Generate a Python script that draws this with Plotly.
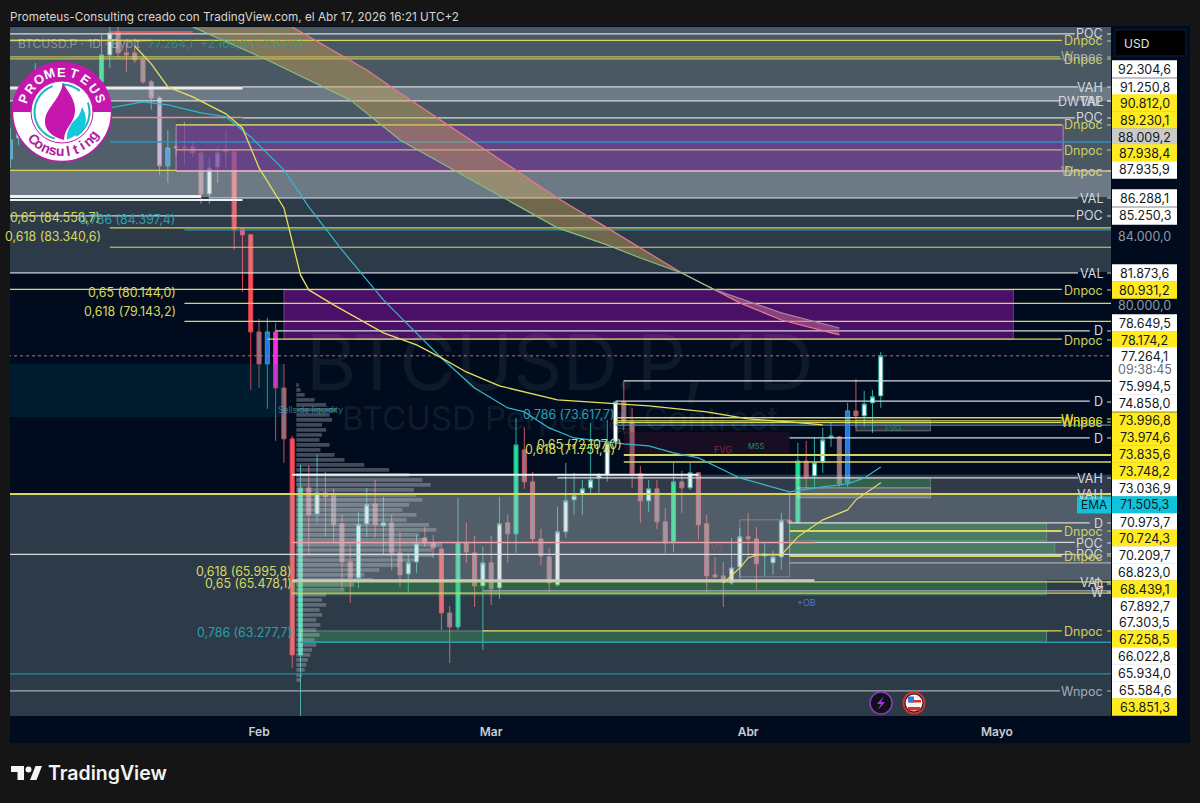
import math
from datetime import datetime, timedelta
import numpy as np
import pandas as pd
import plotly.graph_objects as go

# ---------- candles ----------
candle_dates = ["2026-01-02", "2026-01-03", "2026-01-05"] + [d.strftime("%Y-%m-%d") for d in pd.date_range("2026-01-13", "2026-04-17")]
opens = [88630,89945,92680,
 93530,95300,96840,95435,95435,94970,93530,92490,88205,89318,89380,89380,89006,86500,88143,89192,89068,84065,84065,
 78563,76830,78563,75553,72918,62720,70468,69202,70223,70076,68722,66920,66180,68722,69687,68770,68770,67342,66364,66920,68053,67815,67530,64584,63957,67815,67342,65810,
 66877,65720,68770,68244,72359,70765,68006,67154,65857,68339,69880,70174,70468,70958,71111,72765,74821,73786,71160,69832,70419,68818,67863,70765,70468,71209,68722,66318,66272,65945,66689,
 68100,68006,67295,66877,67154,68866,68770,71800,71062,71756,72964,73017,70714,74352,74095,74768,75135]
highs = [90575,90765,94770,
 96640,97180,97180,96100,95767,95170,93660,92620,90448,89820,90960,89690,89130,88695,89380,90385,89192,84415,84120,
 79280,79335,79060,76830,73070,71607,71556,72108,71258,70419,69154,67720,69298,70468,70860,70027,69154,68339,67342,68196,68578,68196,67625,64900,69980,68770,68148,67625,
 68148,70027,69154,73990,73528,71258,68482,67578,69540,71706,71209,70860,73734,71209,73889,74830,75924,74508,71556,70860,70860,69492,71706,71307,71706,71258,69154,67154,66920,68053,68530,
 69250,68578,67815,67436,69250,70223,72714,72815,73017,73477,73734,73068,74770,76030,75394,75447,77474]
lows = [88080,89507,92000,
 93140,94440,95105,94180,94770,93400,91720,87650,87165,88880,88266,88757,85900,85900,87165,88143,83186,80786,75447,
 75553,74456,72815,71706,62154,60108,67248,68770,68100,67863,65627,65036,65720,68100,68053,67248,66548,65765,65536,66410,67625,67107,63822,62370,63822,66877,64853,62938,
 64945,65218,66877,67342,70419,67815,66783,65536,65765,68053,69154,69154,70223,70223,70765,72714,73374,70468,68770,69298,68482,67342,67389,69250,70370,67958,65490,66180,64853,65857,65995,
 67107,65627,66272,66318,66548,68722,68770,70468,70517,71209,72512,70517,70517,73477,73528,73220,74508]
closes = [89820,90260,93650,
 95300,96775,95435,95300,94970,93530,92490,88205,89318,89380,89318,89006,86500,88082,89006,89068,84355,84415,78563,
 76830,78563,75553,72918,62720,70468,69154,70223,70027,68674,66920,66180,68674,69638,68674,68626,67342,66318,66877,67768,67815,67578,64584,63957,67815,67389,65810,66877,
 65673,68722,68244,72612,70765,68006,67202,65945,68339,69832,70076,70419,70860,71111,72714,74821,73786,71160,69832,70419,68818,67815,70765,70468,71209,68674,66272,66226,65995,66642,68100,
 68006,66830,67202,67154,68866,68770,71800,71013,71706,72866,73068,70665,74352,74095,74716,75085,77264.1]
candle_kinds = list("BwG" "GwgggggLBggggwLgRMR" "gBMgRGgwggggwwgwggwwggRgGggw" "gwgGggggwwwwwwwwgggwggGgwggggww" "ggwwwgGgwwwgBgwww")
assert len(candle_dates) == len(opens) == len(highs) == len(lows) == len(closes) == len(candle_kinds)

kind_fill = {"g": "#8c7480", "w": "#ffffff", "G": "#14e88a", "R": "#ff4d55", "M": "#f52ce8", "B": "#1e78f0", "L": "#c9a8e0"}
kind_wick = {"g": "#c8505c", "w": "#2aa79b", "G": "#2aa79b", "R": "#e04050", "M": "#e04050", "B": "#2aa79b", "L": "#c8505c"}

# ---------- moving averages and fan ----------
ema_a_dates = ["2026-01-17","2026-01-19","2026-01-21","2026-01-24","2026-01-28","2026-01-30","2026-02-01","2026-02-04","2026-02-06","2026-02-07","2026-02-10","2026-02-16","2026-02-20","2026-02-23","2026-02-26","2026-03-02","2026-03-09","2026-03-14","2026-03-20","2026-03-27","2026-04-01","2026-04-06","2026-04-10"]
ema_a_values = [95900,94710,93200,92550,91465,90575,88080,85660,81750,80898,80060,78510,77855,77150,76400,75660,74925,74770,74610,74300,73940,73785,73630]
ema_b_dates = ["2026-01-14","2026-01-18","2026-01-21","2026-01-25","2026-01-28","2026-01-31","2026-02-04","2026-02-07","2026-02-11","2026-02-16","2026-02-19","2026-02-23","2026-02-27","2026-03-03","2026-03-05","2026-03-08","2026-03-11","2026-03-17","2026-03-20","2026-03-23","2026-03-26","2026-03-31","2026-04-03","2026-04-06","2026-04-10","2026-04-13","2026-04-15","2026-04-17"]
ema_b_values = [91850,92230,92040,91530,91280,90005,87958,85720,83186,80340,78950,77150,75553,74508,74300,73477,72964,72660,72560,72209,71958,70958,70615,70272,70517,70665,70958,71506]
ema_c_dates = ["2026-03-29","2026-03-31","2026-04-01","2026-04-02","2026-04-05","2026-04-07","2026-04-10","2026-04-13","2026-04-14","2026-04-17"]
ema_c_values = [65945,66642,67107,67248,67248,68100,68914,69394,69882,70715]

fan_upper_dates = ["2026-02-05","2026-02-14","2026-02-18","2026-03-09","2026-03-15","2026-03-19","2026-03-24","2026-03-28","2026-03-31","2026-04-05","2026-04-12"]
fan_upper_values = [97180,94311,92810,86256,84474,83300,81862,80898,80170,79220,78400]
fan_lower_dates = ["2026-01-24","2026-02-02","2026-02-12","2026-02-18","2026-03-09","2026-03-15","2026-03-19","2026-03-24","2026-03-28","2026-04-05","2026-04-12"]
fan_lower_values = [97180,94970,92360,89816,84474,83476,82720,81862,80898,79610,78780]
FAN_CROSS_UP = 7   # index of the shared point in the upper edge
FAN_CROSS_LO = 8   # index of the shared point in the lower edge

# ---------- volume profile ----------
profile_prices = [75710,75447,75190,74925,74665,74404,74146,73889,73632,73374,73120,72865,72612,72359,72108,71857,71607,71356,71111,70860,70615,70370,70125,69882,69638,69394,69154,68914,68674,68434,68196,67958,67720,67483,67248,67014,66783,66548,66318,66088,65857,65627,65400,65172,64945,64718,64493,64270,64045,63822,63600,63380,63158,62938,62720,62500,62285,62067,61850,61635]
profile_days = [0.3,0.5,1,2.2,3.6,4.8,4,4.3,3.1,3.6,3.1,2.8,4,2.9,4.6,5.8,8.2,11.2,13.6,15.2,16.2,14.2,14.5,15.2,13.6,12.8,14.5,13.3,16,16.9,14.8,15.7,17.6,16.4,16.6,14.5,12.4,10,8.2,9.2,7,5.8,3.6,3.1,3.6,2.8,3.1,2.4,2.9,2.4,2.8,2.2,2.4,1.9,1.7,1.4,1.2,1,0.7,0.5]
profile_base = "2026-02-05 12:00"

# ---------- zones ----------
E0, E1 = "2026-01-01", "2026-05-20"
zone_starts = [E0, E0, E0, E0, E0, E0, "2026-02-05 12:00", E0]
zone_ends = [E1, E1, E1, E1, "2026-01-22", E1, E1, "2026-02-04"]
zone_tops = [98000, 98000, 93200, 87896, 91208, 70170, 71111, 76830]
zone_bottoms = [81918, 86315, 92296, 86315, 87896, 59000, 66088, 74040]
zone_fills = ["rgba(180,200,200,.25)", "rgba(205,220,220,.18)", "rgba(220,225,240,.25)", "rgba(220,225,240,.25)", "rgba(220,225,240,.06)", "rgba(180,200,200,.25)", "rgba(190,195,205,.25)", "rgba(0,100,120,.19)"]

box_starts = ["2026-01-22","2026-02-04","2026-04-06","2026-04-06","2026-02-05","2026-02-06","2026-04-07","2026-04-07","2026-04-14","2026-03-17","2026-03-31"]
box_ends = ["2026-05-09","2026-05-03","2026-05-07","2026-05-08","2026-05-07","2026-05-07","2026-04-23","2026-04-23","2026-04-23","2026-04-06","2026-04-06"]
box_tops = [90760,80898,68770,67815,66040,63778,70958,70468,73889,73272,68914]
box_bottoms = [87896,78174,67910,67199,65400,63277,70468,69978,73323,72107,66226]
GRN = "rgba(60,200,90,.28)"
box_fills = ["rgba(118,55,155,.6)", "rgba(92,17,122,.8)", GRN, GRN, GRN, GRN, GRN, "rgba(255,255,255,.2)", "rgba(255,255,255,.18)", "rgba(90,20,50,.25)", "rgba(0,0,0,0)"]
box_borders = ["rgba(255,255,255,.4)", "rgba(255,255,255,.25)", "rgba(255,255,255,.2)", "rgba(255,255,255,.2)", "rgba(255,255,255,.2)", "rgba(255,255,255,.3)", "rgba(255,255,255,.2)", "rgba(255,255,255,.3)", "rgba(255,255,255,.3)", "rgba(0,0,0,0)", "rgba(255,255,255,.25)"]

# ---------- horizontal levels ----------
D_, P_, V_, DD, W_, R_ = "2026-05-08 20:00", "2026-05-10 10:00", "2026-05-10 19:00", "2026-05-12 05:00", "2026-05-08 15:00", E1
white_prices = [96712,93200,92296,91208,86256,85184,81862,78618,75923,74858,72964,70958,68770,67271,67837]
white_starts = [E0,"2026-01-30",E0,"2026-01-30","2026-01-26",E0,E0,"2026-02-03","2026-03-17","2026-03-16","2026-04-06","2026-03-09","2026-04-06",E0,"2026-04-09"]
white_ends = [P_,V_,W_,P_,V_,P_,V_,DD,R_,DD,DD,V_,DD,P_,P_]
thick_prices = [93137,86345,86140,71111,66062]
thick_starts = [E0,E0,E0,"2026-02-05","2026-02-05"]
thick_ends = ["2026-01-30","2026-01-25","2026-01-30","2026-03-26","2026-04-09"]
thick_widths = [3,3,2,2,2.5]
thick_colors = ["#e8eaec","#eef0f2","#eef0f2","#eef0f2","#c8ccce"]
yellow_prices = [96270,95170,95040,90760,87927,84470,83340,80931,80144,79143,78174,73997,73836,73748,72107,71751,70170,68383,67199,65996,65478,63778]
yellow_starts = [E0,E0,E0,"2026-01-22",E0,"2026-01-14","2026-01-14",E0,"2026-01-23","2026-01-23","2026-02-02","2026-03-16","2026-03-16","2026-03-16","2026-03-17","2026-03-17",E0,"2026-04-06","2026-04-06","2026-02-05","2026-02-05","2026-02-28"]
yellow_ends = [D_,W_,D_,D_,"2026-01-22",R_,R_,D_,R_,R_,D_,D_,D_,D_,R_,R_,R_,D_,D_,R_,R_,D_]
yellow_widths = [1.2,1,1,1.2,1.2,1.2,1.2,1.2,1.2,1.2,1.2,1.4,1.4,1.4,2,1.4,2,2,2,1.2,1.2,1.2]
accent_prices = [96840,91240,87896,89192,67837,96270]
accent_starts = ["2026-01-14","2026-01-14","2026-01-22","2026-01-22","2026-02-05",E0]
accent_ends = ["2026-01-24","2026-01-30",R_,D_,"2026-04-09","2026-01-19"]
accent_colors = ["#ff5a5a","#ea8f8f","#e8b0c0","#d8b080","#f0a0a8","#ff5a3c"]
accent_widths = [1.5,1.5,1.5,1.2,1.5,2]
teal_prices = [89690,84355,73617,63277,61894]
teal_starts = ["2026-01-14","2026-01-23","2026-03-16","2026-02-06",E0]
teal_ends = [R_,R_,R_,R_,R_]
teal_colors = ["#2f8fc0","#1f9db5","#3a8fc0","#1f9db5","#1f8fa8"]
gray_prices = [66874,65580,61163]
gray_starts = ["2026-04-06","2026-02-28",E0]
gray_ends = [R_,R_,W_]
current_price = 77264.1

# ---------- texts ----------
level_labels = ["POC","Dnpoc","Wnpoc","Dnpoc","VAH","DWTAP","VAL","POC","Dnpoc","Dnpoc","Wnpoc","Dnpoc","VAL","POC","VAL","Dnpoc","D","Dnpoc","D","Wnpoc","Wnpoc","D","VAH","VAH","D","Dnpoc","POC","POC","Dnpoc","VAL","D","W","Dnpoc","Wnpoc"]
level_label_y = [34,41,57,59,87,101,101,118,125,150,171,171,198,216,273,290,331,340,402,419,422,438,478,494,523,531,543,554,556,582,584,592,631,691]
level_label_c = ["w","y","g","y","w","w","w","w","y","y","g","y","w","w","w","y","w","y","w","Y","Y","w","w","w","w","y","w","w","y","w","w","w","y","g"]

price_texts = ["92.304,6","91.250,8","90.812,0","89.230,1","88.009,2","87.938,4","87.935,9","86.288,1","85.250,3","81.873,6","80.931,2","78.649,5","78.174,2","77.264,1","09:38:45","75.994,5","74.858,0","73.996,8","73.974,6","73.835,6","73.748,2","73.036,9","71.505,3","70.973,7","70.724,3","70.209,7","68.823,0","68.439,1","67.892,7","67.303,5","67.258,5","66.022,8","65.934,0","65.584,6","63.851,3"]
price_y = [69,87,103,120,137,153,170,198,216,273,290,323,340,356,370,386,403,421,437,454,471,488,505,522,538,555,572,589,606,622,639,656,673,690,707]
price_bg = list("wwyygyw" "ww" "w" "y" "wy" "ww" "ww" "yyyy" "w" "c" "w" "y" "ww" "y" "ww" "y" "www" "y")

fib_texts = ["0,65 (84.558,7)","0,786 (84.397,4)","0,618 (83.340,6)","0,65 (80.144,0)","0,618 (79.143,2)","0,618 (65.995,8)","0,65 (65.478,1)","0,786 (63.277,7)","0,786 (73.617,7)","0,65 (72.107,0)","0,618 (71.751,4)"]
fib_right = [102,177,103,178,178,294,294,294,617,624,617]
fib_y = [217,219,237,292,311,571,583,632,414,444,450]
fib_colors = ["#d8d860","#2a9fb0","#d8d860","#d8d860","#d8d860","#d8d860","#d8d860","#2a9fb0","#2a9fb0","#d8d860","#d8d860"]

tick_dates = ["2026-02-01", "2026-03-01", "2026-04-01", "2026-05-01"]
tick_labels = ["Feb", "Mar", "Abr", "Mayo"]

# ---------- helpers ----------
L, R, T, B = 10, 1111, 27, 716
def px(x): return (x - L) / (R - L)
def py(y): return 1 - (y - T) / (B - T)
NAVY = "#000c1e"
PAGE = "#151515"

fig = go.Figure()

# candles, one trace per colour group
for kind in kind_fill:
    idx = [i for i, k in enumerate(candle_kinds) if k == kind]
    side = dict(fillcolor=kind_fill[kind], line=dict(color=kind_wick[kind], width=1))
    fig.add_trace(go.Candlestick(
        x=[candle_dates[i] for i in idx], open=[opens[i] for i in idx], high=[highs[i] for i in idx],
        low=[lows[i] for i in idx], close=[closes[i] for i in idx],
        increasing=side, decreasing=side, whiskerwidth=0, showlegend=False, hoverinfo="skip"))

def rect(x0, x1, top, bottom, fill, border="rgba(0,0,0,0)"):
    fig.add_trace(go.Scatter(x=[x0, x1, x1, x0, x0], y=[top, top, bottom, bottom, top], mode="lines",
                             fill="toself", fillcolor=fill, line=dict(color=border, width=1),
                             showlegend=False, hoverinfo="skip"))

for a, b, t, m, f in zip(zone_starts, zone_ends, zone_tops, zone_bottoms, zone_fills):
    rect(a, b, t, m, f)
for a, b, t, m, f, e in zip(box_starts, box_ends, box_tops, box_bottoms, box_fills, box_borders):
    rect(a, b, t, m, f, e)

# volume profile
base = datetime.strptime(profile_base, "%Y-%m-%d %H:%M")
vx, vy = [], []
for p, d in zip(profile_prices, profile_days):
    vx += [base, base + timedelta(days=d), None]
    vy += [p, p, None]
fig.add_trace(go.Scatter(x=vx, y=vy, mode="lines", line=dict(color="rgba(215,222,232,.3)", width=3.6), showlegend=False, hoverinfo="skip"))

def hline(p, a, b, color, width, dash="solid"):
    fig.add_trace(go.Scatter(x=[a, b], y=[p, p], mode="lines", line=dict(color=color, width=width, dash=dash), showlegend=False, hoverinfo="skip"))

for p, a, b in zip(gray_prices, gray_starts, gray_ends): hline(p, a, b, "#a5acb5", 1.2)
for p, a, b, c in zip(teal_prices, teal_starts, teal_ends, teal_colors): hline(p, a, b, c, 1.4)
for p, a, b in zip(white_prices, white_starts, white_ends): hline(p, a, b, "#d5d9de", 1.2)
for p, a, b, w, c in zip(thick_prices, thick_starts, thick_ends, thick_widths, thick_colors): hline(p, a, b, c, w)
for p, a, b, c, w in zip(accent_prices, accent_starts, accent_ends, accent_colors, accent_widths): hline(p, a, b, c, w)
for p, a, b, w in zip(yellow_prices, yellow_starts, yellow_ends, yellow_widths): hline(p, a, b, "#d9d65f", w)
hline(current_price, E0, E1, "#c06a8a", 1, "dot")

# fan ribbon: tan before the edges meet, pinkish after
u, l = FAN_CROSS_UP, FAN_CROSS_LO
fig.add_trace(go.Scatter(x=fan_upper_dates[:u+1] + fan_lower_dates[:l+1][::-1], y=fan_upper_values[:u+1] + fan_lower_values[:l+1][::-1], mode="lines", fill="toself",
                         fillcolor="rgba(205,165,85,.42)", line=dict(width=0, color="rgba(0,0,0,0)"), showlegend=False, hoverinfo="skip"))
fig.add_trace(go.Scatter(x=fan_upper_dates[u:] + fan_lower_dates[l:][::-1], y=fan_upper_values[u:] + fan_lower_values[l:][::-1], mode="lines", fill="toself",
                         fillcolor="rgba(205,110,150,.5)", line=dict(width=0, color="rgba(0,0,0,0)"), showlegend=False, hoverinfo="skip"))
fig.add_trace(go.Scatter(x=fan_upper_dates, y=fan_upper_values, mode="lines", line=dict(color="#e8788c", width=1.2), showlegend=False, hoverinfo="skip"))
fig.add_trace(go.Scatter(x=fan_lower_dates[:l+1], y=fan_lower_values[:l+1], mode="lines", line=dict(color="#86bf80", width=1.2), showlegend=False, hoverinfo="skip"))
fig.add_trace(go.Scatter(x=fan_lower_dates[l:], y=fan_lower_values[l:], mode="lines", line=dict(color="#a08aa0", width=1.2), showlegend=False, hoverinfo="skip"))

# averages
fig.add_trace(go.Scatter(x=ema_b_dates, y=ema_b_values, mode="lines", line=dict(color="#35b6cc", width=1.2), showlegend=False, hoverinfo="skip"))
fig.add_trace(go.Scatter(x=ema_a_dates, y=ema_a_values, mode="lines", line=dict(color="#e6df5c", width=1.3), showlegend=False, hoverinfo="skip"))
fig.add_trace(go.Scatter(x=ema_c_dates, y=ema_c_values, mode="lines", line=dict(color="#e6df5c", width=1.2), showlegend=False, hoverinfo="skip"))

annotations = []
shapes = []
def text(x, y, s, color, size=12, anchor="left", weight=400, family="Inter", **kw):
    annotations.append(dict(xref="paper", yref="paper", x=px(x), y=py(y), text=s, showarrow=False, xanchor=anchor, yanchor="middle",
                            font=dict(color=color, size=size, family=family, weight=weight), **kw))
def prect(x0, y0, x1, y1, fill, layer="above", line=None):
    shapes.append(dict(type="rect", xref="paper", yref="paper", x0=px(x0), x1=px(x1), y0=py(y0), y1=py(y1), fillcolor=fill, layer=layer, line=line or dict(width=0)))
def pcircle(cx, cy, r, fill, line=None):
    shapes.append(dict(type="circle", xref="paper", yref="paper", x0=px(cx - r), x1=px(cx + r), y0=py(cy - r), y1=py(cy + r), fillcolor=fill, layer="above", line=line or dict(width=0)))
def ppath(cmds, fill="rgba(0,0,0,0)", line=None):
    out = []
    for c in cmds:
        if isinstance(c, str):
            out.append(c)
        else:
            out.append(f"{px(c[0]):.5f},{py(c[1]):.5f}")
    shapes.append(dict(type="path", xref="paper", yref="paper", path=" ".join(out), fillcolor=fill, layer="above", line=line or dict(width=0)))

# frame
prect(R, 26, 1190, 743, NAVY, "below")
prect(L, B, R, 743, NAVY, "below")
prect(L, 26, 1190, 27, NAVY, "below")

# watermark and legend
text(560, 362, "BTCUSD.P, 1D", "rgba(255,255,255,.055)", 77, "center")
text(560, 418, "BTCUSD Perpetual Contract", "rgba(255,255,255,.075)", 33, "center")
text(16, 44, "BTCUSD.P · 1D · Bybit", "rgba(255,255,255,.38)", 12)
text(146, 44, "77.264,1  +2.163,9 (+2,87%)", "rgba(25,175,125,.65)", 12)

# header / footer
text(8, 17, "Prometeus-Consulting creado con TradingView.com, el Abr 17, 2026 16:21 UTC+2", "#d6d6d6", 11.7)
text(46, 773, "TradingView", "#f4f4f4", 19.5, weight=600)
ppath(["M", (11, 766), "L", (24, 766), "L", (24, 780), "L", (17.5, 780), "L", (17.5, 772), "L", (11, 772), "Z"], "#f4f4f4")
pcircle(28.5, 769.5, 3, "#f4f4f4")
ppath(["M", (30, 780), "L", (35.5, 766), "L", (42, 766), "L", (36.5, 780), "Z"], "#f4f4f4")

# small chart notes
text(310, 410, "Sellside liquidity", "rgba(60,170,190,.7)", 8.5, "center")
text(723, 450, "FVG", "rgba(170,50,60,.75)", 9, "center")
text(756, 447, "MSS", "rgba(40,170,120,.85)", 7.5, "center")
text(625, 431, "FVG", "rgba(120,120,120,.4)", 8, "center")
text(717, 548, "VG", "rgba(170,90,100,.7)", 8.5, "center")
text(806, 602, "+OB", "#4a78c8", 9, "center")
text(893, 428, "FVG", "rgba(40,170,120,.7)", 8, "center")

# fib labels
for s, r, y, c in zip(fib_texts, fib_right, fib_y, fib_colors):
    text(r, y, s, c, 12.4, "right")

# level labels
lab_col = {"w": "#d5d9de", "y": "#cfcf66", "g": "#a5acb5", "Y": "#e6dc30"}
for s, y, c in zip(level_labels, level_label_y, level_label_c):
    text(1105, y, s, lab_col[c], 12.5, "right")
    prect(1107, y - .5, 1111, y + .5, lab_col[c])

# price axis labels
bg_col = {"w": "#ffffff", "y": "#ffeb1f", "g": "#c9c9c9", "c": "#0fc3dc"}
for s, y, b in zip(price_texts, price_y, price_bg):
    tc = "#6a6d78" if ":" in s else "#131722"
    h = 17.4
    prect(1112, y - h / 2, 1177, y + h / 2, bg_col[b])
    text(1144.5, y, s, tc, 12.5, "center")
text(1144.5, 236, "84.000,0", "#8f98a6", 12.5, "center")
text(1144.5, 306, "80.000,0", "#8f98a6", 12.5, "center")
prect(1077, 496.5, 1111, 513.5, bg_col["c"])
text(1094, 505, "EMA", "#131722", 12, "center")
shapes.append(dict(type="rect", xref="paper", yref="paper", x0=px(1115), x1=px(1186), y0=py(30), y1=py(56), fillcolor="#000000", layer="above", line=dict(color="#0f2238", width=1)))
text(1122, 43, "USD", "#e6e6e6", 12)

# event icons
pcircle(881, 703, 11, "#101018", dict(color="#8e3ac0", width=1.5))
ppath(["M", (884, 696), "L", (877, 704), "L", (881, 704), "L", (878, 710), "L", (885, 702), "L", (881, 702), "Z"], "#a53ad8")
pcircle(914, 703, 10.5, "#101018", dict(color="#d63030", width=2))
pcircle(914, 703, 8.5, "#f4f4f4")
prect(908, 707, 920, 710.5, "#d63030")
prect(909, 700, 921, 702.5, "#d63030")
prect(908, 696.5, 914, 702.5, "#3a78d8")

# logo
CX, CY = 62, 112
MAG = "#c517ad"
TEAL = "#17b5c4"
pcircle(CX, CY, 49.5, "#ffffff", dict(color=MAG, width=1.5))
ang = np.radians(np.linspace(180, 360, 40))
arc = [(CX + 49.5 * math.cos(a), CY + 49.5 * math.sin(a)) for a in ang]
cmds = ["M", arc[0]] + sum([["L", p] for p in arc[1:]], []) + ["Z"]
ppath(cmds, MAG)
pcircle(CX, CY, 31, "#ffffff", dict(color=MAG, width=1))
for a0, a1 in [(105, 250), (-20, 60), (270, 310)]:
    pts = [(CX + 27.5 * math.cos(math.radians(a)), CY + 27.5 * math.sin(math.radians(a))) for a in np.linspace(a0, a1, 24)]
    ppath(["M", pts[0]] + sum([["L", p] for p in pts[1:]], []), "rgba(0,0,0,0)", dict(color=TEAL, width=2))
ppath(["M", (63, 83), "C", (68, 92), (76, 100), (75, 112), "C", (74, 124), (64, 128), (64, 140), "C", (52, 137), (44, 130), (45, 120), "C", (46, 108), (60, 100), (63, 83), "Z"], MAG)
ppath(["M", (82, 107), "C", (85, 112), (88, 120), (84, 127), "C", (80, 134), (72, 137), (67, 140), "C", (66, 130), (72, 122), (77, 118), "C", (80, 114), (81, 111), (82, 107), "Z"], "#14c8de")
for i, ch in enumerate("PROMETEUS"):
    a = -71 + i * 142 / 8
    x = CX + 40 * math.sin(math.radians(a))
    y = CY - 40 * math.cos(math.radians(a))
    text(x, y, ch, "#ffffff", 13, "center", 700, "Liberation Sans", textangle=a)
for i, ch in enumerate("Consulting"):
    a = -46 + i * 99 / 9
    x = CX + 39 * math.sin(math.radians(a))
    y = CY + 39 * math.cos(math.radians(a))
    text(x, y, ch, "#b01aa0", 14, "center", 700, "Liberation Sans", textangle=-a)

fig.update_layout(
    width=1200, height=803, autosize=False,
    margin=dict(l=L, r=1200 - R, t=T, b=803 - B, pad=0),
    paper_bgcolor=PAGE, plot_bgcolor=NAVY, showlegend=False, boxmode="overlay",
    xaxis=dict(type="date", range=["2026-01-01 23:00", "2026-05-14 18:30"], rangeslider=dict(visible=False), showgrid=False, zeroline=False,
               showline=False, ticks="", tickmode="array", tickvals=tick_dates, ticktext=tick_labels, ticklabelstandoff=7,
               tickfont=dict(color="#c8ccd0", size=12, family="Inter", weight=600)),
    yaxis=dict(type="log", range=[4.77890, 4.98756], showgrid=False, zeroline=False, showline=False, showticklabels=False, ticks="", fixedrange=True),
    annotations=annotations, shapes=shapes,
)
fig.write_html("out.html", config={"displayModeBar": False},
               post_script="document.body.style.margin='0';document.body.style.background='#151515';")
